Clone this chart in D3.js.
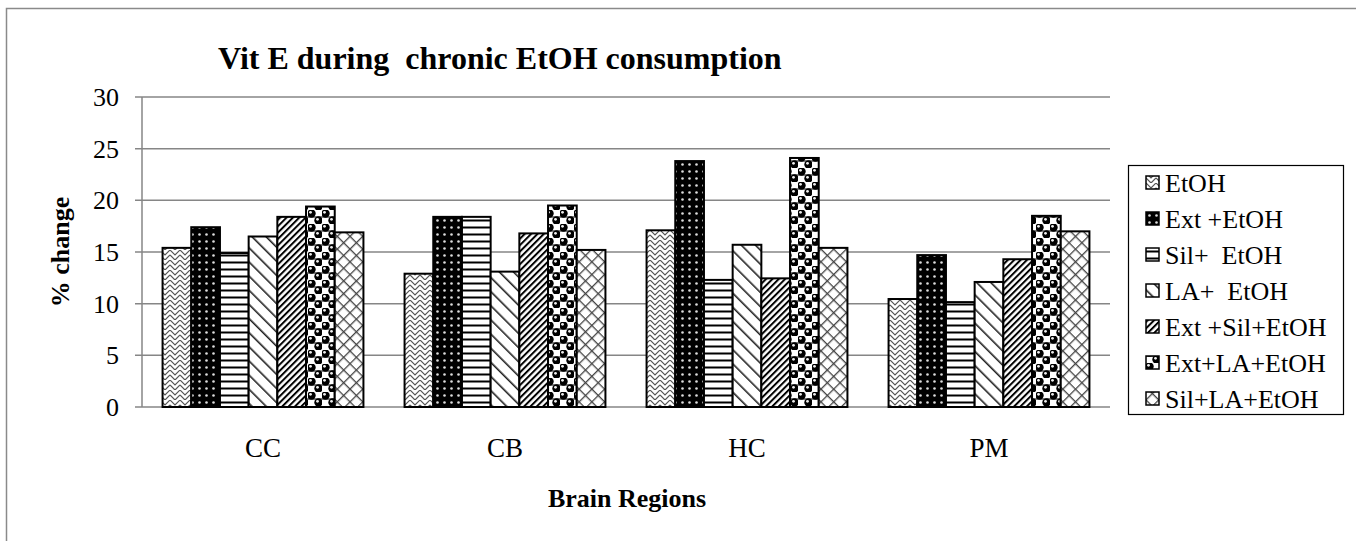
<!DOCTYPE html>
<html>
<head>
<meta charset="utf-8">
<script src="https://cdn.jsdelivr.net/npm/d3@7"></script>
<style>
  body { margin: 0; background: #fff; }
  text { font-family: "Liberation Serif", "Times New Roman", serif; fill: #000; }
</style>
</head>
<body>
<svg id="chart" width="1356" height="541"></svg>
<script>
// data
var regions = ["CC", "CB", "HC", "PM"];
var groups = ["EtOH", "Ext +EtOH", "Sil+  EtOH", "LA+  EtOH", "Ext +Sil+EtOH", "Ext+LA+EtOH", "Sil+LA+EtOH"];
var etoh      = [15.4, 12.9, 17.1, 10.45];
var extEtoh   = [17.4, 18.4, 23.8, 14.7];
var silEtoh   = [14.9, 18.4, 12.3, 10.15];
var laEtoh    = [16.5, 13.1, 15.7, 12.1];
var extSil    = [18.4, 16.8, 12.45, 14.3];
var extLa     = [19.4, 19.5, 24.1, 18.5];
var silLa     = [16.9, 15.2, 15.4, 17.0];
var yTicks = [0, 5, 10, 15, 20, 25, 30];

var seriesVals = [etoh, extEtoh, silEtoh, laEtoh, extSil, extLa, silLa];

var svg = d3.select("#chart");
var defs = svg.append("defs");

// ---- fill patterns (black & white hatches like the original) ----
function pat(id, w, h, transform) {
    var p = defs.append("pattern")
        .attr("id", id)
        .attr("patternUnits", "userSpaceOnUse")
        .attr("width", w).attr("height", h);
    if (transform) p.attr("patternTransform", transform);
    p.append("rect").attr("width", w).attr("height", h).attr("fill", "#fff");
    return p;
}

// zig zag
var p0 = pat("p0", 10, 10);
p0.append("path").attr("d", "M0,0 L5,5 L10,0 M0,5 L5,10 L10,5")
    .attr("fill", "none").attr("stroke", "#555").attr("stroke-width", 1.2);

// black with white dots
var p1 = pat("p1", 7, 7);
p1.select("rect").attr("fill", "#000");
p1.append("circle").attr("cx", 3.5).attr("cy", 3.5).attr("r", 1.3).attr("fill", "#ddd");

// horizontal lines
var p2 = pat("p2", 8, 7);
p2.append("rect").attr("x", 0).attr("y", 2.5).attr("width", 8).attr("height", 2).attr("fill", "#000");

// wide downward diagonal
var p3 = pat("p3", 10, 10, "rotate(-45)");
p3.append("rect").attr("x", 0).attr("y", 0).attr("width", 1.6).attr("height", 10).attr("fill", "#222");

// dense upward diagonal
var p4 = pat("p4", 4.5, 4.5, "rotate(45)");
p4.append("rect").attr("x", 0).attr("y", 0).attr("width", 2).attr("height", 4.5).attr("fill", "#000");

// spheres
var p5 = pat("p5", 14, 14);
p5.append("circle").attr("cx", 3.5).attr("cy", 3.5).attr("r", 4.2).attr("fill", "#000");
p5.append("circle").attr("cx", 10.5).attr("cy", 10.5).attr("r", 4.2).attr("fill", "#000");
p5.append("circle").attr("cx", 2.5).attr("cy", 2.3).attr("r", 1.4).attr("fill", "#eee");
p5.append("circle").attr("cx", 9.5).attr("cy", 9.3).attr("r", 1.4).attr("fill", "#eee");
p5.append("rect").attr("x", 0).attr("y", 6.5).attr("width", 14).attr("height", 1).attr("fill", "#000");

// diagonal crosshatch
var p6 = pat("p6", 9, 9, "rotate(45)");
p6.append("rect").attr("x", 0).attr("y", 0).attr("width", 1.3).attr("height", 9).attr("fill", "#444");
p6.append("rect").attr("x", 0).attr("y", 0).attr("width", 9).attr("height", 1.3).attr("fill", "#444");

var fills = ["url(#p0)", "url(#p1)", "url(#p2)", "url(#p3)", "url(#p4)", "url(#p5)", "url(#p6)"];

// chart frame (cropped in the original)
svg.append("rect")
    .attr("x", 6.5).attr("y", 8.5).attr("width", 1400).attr("height", 600)
    .attr("fill", "none").attr("stroke", "#8a8a8a").attr("stroke-width", 1.5);

var plotLeft = 142, plotRight = 1110, plotTop = 97, plotBottom = 407;

var y = d3.scaleLinear().domain([0, 30]).range([plotBottom, plotTop]);
var x0 = d3.scaleBand().domain(regions).range([plotLeft, plotRight])
    .paddingInner(0.17).paddingOuter(0.085);
var x1 = d3.scaleBand().domain(d3.range(groups.length)).range([0, x0.bandwidth()]);

// gridlines
svg.append("g")
    .selectAll("line")
    .data(yTicks)
    .join("line")
    .attr("x1", plotLeft - 7).attr("x2", plotRight)
    .attr("y1", function(d) { return y(d); })
    .attr("y2", function(d) { return y(d); })
    .attr("stroke", "#868686").attr("stroke-width", 1.5);

// y axis line
svg.append("line")
    .attr("x1", plotLeft).attr("x2", plotLeft).attr("y1", plotTop).attr("y2", plotBottom)
    .attr("stroke", "#868686").attr("stroke-width", 1.5);

// y tick labels
svg.append("g")
    .selectAll("text")
    .data(yTicks)
    .join("text")
    .attr("x", 119)
    .attr("y", function(d) { return y(d) + 9; })
    .attr("text-anchor", "end")
    .style("font-size", "26px")
    .text(function(d) { return d; });

// bars
var cells = [];
regions.forEach(function(r, i) {
    seriesVals.forEach(function(vals, j) {
        cells.push({ region: r, s: j, v: vals[i] });
    });
});

svg.append("g")
    .selectAll("rect")
    .data(cells)
    .join("rect")
    .attr("x", function(d) { return x0(d.region) + x1(d.s); })
    .attr("y", function(d) { return y(d.v); })
    .attr("width", x1.bandwidth())
    .attr("height", function(d) { return plotBottom - y(d.v); })
    .attr("fill", function(d) { return fills[d.s]; })
    .attr("stroke", "#000").attr("stroke-width", 2);

// x category labels
svg.append("g")
    .selectAll("text")
    .data(regions)
    .join("text")
    .attr("x", function(d) { return x0(d) + x0.bandwidth() / 2; })
    .attr("y", 457)
    .attr("text-anchor", "middle")
    .style("font-size", "27px")
    .text(function(d) { return d; });

// titles
svg.append("text")
    .attr("x", 218).attr("y", 69)
    .style("font-size", "32px").style("font-weight", "bold")
    .style("white-space", "pre").attr("xml:space", "preserve")
    .text("Vit E during  chronic EtOH consumption");

svg.append("text")
    .attr("x", 627).attr("y", 507)
    .attr("text-anchor", "middle")
    .style("font-size", "26px").style("font-weight", "bold")
    .text("Brain Regions");

svg.append("text")
    .attr("transform", "translate(69,252) rotate(-90)")
    .attr("text-anchor", "middle")
    .style("font-size", "26px").style("font-weight", "bold")
    .text("% change");

// legend
var lg = svg.append("g");
lg.append("rect")
    .attr("x", 1128.5).attr("y", 165.5).attr("width", 215).attr("height", 249)
    .attr("fill", "#fff").attr("stroke", "#000").attr("stroke-width", 1.2);

var item = lg.selectAll("g.item")
    .data(groups)
    .join("g")
    .attr("class", "item")
    .attr("transform", function(d, i) { return "translate(1146," + (183 + i * 36) + ")"; });

item.append("rect")
    .attr("x", 0).attr("y", -7).attr("width", 13).attr("height", 13)
    .attr("fill", function(d, i) { return fills[i]; })
    .attr("stroke", "#000").attr("stroke-width", 1.5);

item.append("text")
    .attr("x", 19).attr("y", 9)
    .style("font-size", "26px")
    .style("white-space", "pre").attr("xml:space", "preserve")
    .text(function(d) { return d; });
</script>
</body>
</html>
